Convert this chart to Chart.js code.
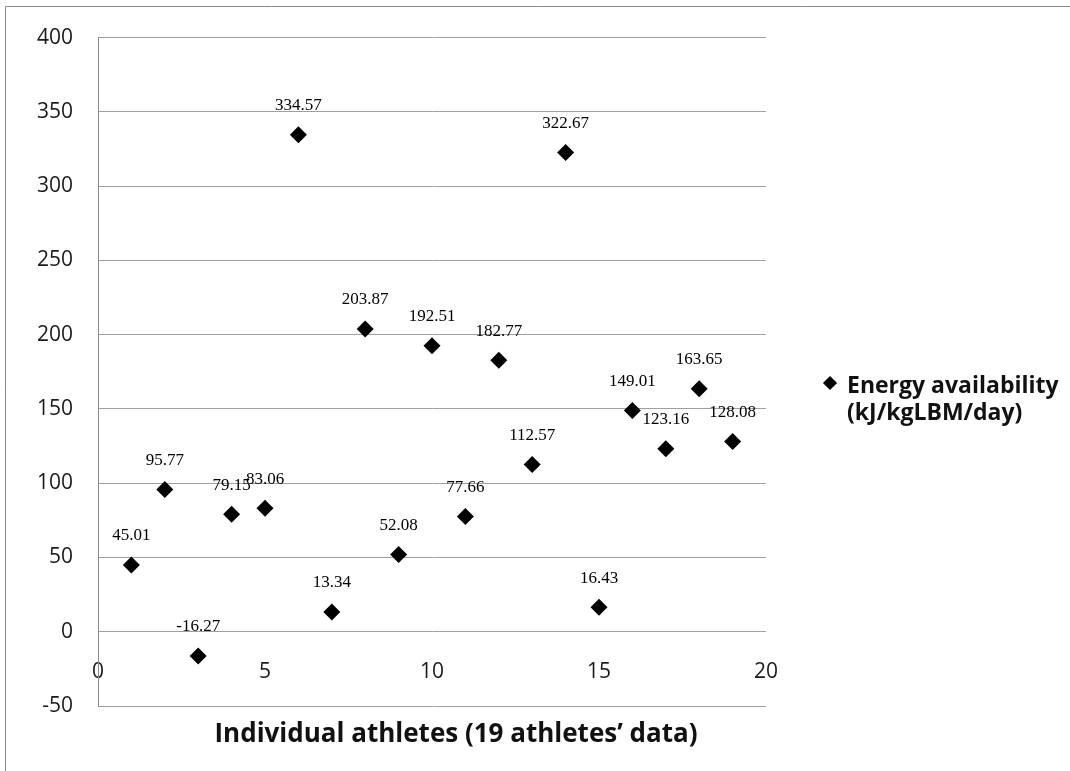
<!DOCTYPE html>
<html>
<head>
<meta charset="utf-8">
<script src="https://cdn.jsdelivr.net/npm/chart.js@4/dist/chart.umd.min.js"></script>
<style>
  html, body { margin: 0; padding: 0; background: #ffffff; }
  #wrap { position: relative; width: 1070px; height: 771px; overflow: hidden; }
  #c { position: absolute; left: 0; top: 0; }
  .txt { position: absolute; font-family: "Open Sans", sans-serif; font-weight: 700; color: #111; white-space: nowrap; }
  #xtitle { left: 456px; top: 715px; transform: translateX(-50%); font-size: 26px; line-height: 34px; }
  #legend { left: 824px; top: 371px; font-size: 23px; line-height: 27px; }
  #legend .sym { position: absolute; left: 1px; top: 7px; width: 10px; height: 10px; background: #000; transform: rotate(45deg); }
  #legend .lbl { margin-left: 23px; }
</style>
</head>
<body>
<div id="wrap">
  <canvas id="c" width="1070" height="771"></canvas>
  <div id="xtitle" class="txt">Individual athletes (19 athletes’ data)</div>
  <div id="legend" class="txt"><span class="sym"></span><div class="lbl">Energy availability<br>(kJ/kgLBM/day)</div></div>
</div>
<script>
// ---- data ----
const athletes = [1, 2, 3, 4, 5, 6, 7, 8, 9, 10, 11, 12, 13, 14, 15, 16, 17, 18, 19];
const energyAvailability = [45.01, 95.77, -16.27, 79.15, 83.06, 334.57, 13.34, 203.87, 52.08, 192.51,
                            77.66, 182.77, 112.57, 322.67, 16.43, 149.01, 123.16, 163.65, 128.08];
const xTickValues = [0, 5, 10, 15, 20];
const yTickValues = [-50, 0, 50, 100, 150, 200, 250, 300, 350, 400];
const seriesName = 'Energy availability (kJ/kgLBM/day)';

const points = athletes.map((a, i) => ({ x: a, y: energyAvailability[i] }));

const valueLabels = {
  id: 'valueLabels',
  afterDatasetsDraw(chart) {
    const ctx = chart.ctx;
    const meta = chart.getDatasetMeta(0);
    ctx.save();
    ctx.font = '17px "Liberation Serif", serif';
    ctx.fillStyle = '#000';
    ctx.textAlign = 'center';
    ctx.textBaseline = 'middle';
    meta.data.forEach((el, i) => {
      ctx.fillText(energyAvailability[i].toFixed(2), el.x, el.y - 29);
    });
    ctx.restore();
  }
};

const frame = {
  id: 'frame',
  beforeDraw(chart) {
    const ctx = chart.ctx;
    ctx.save();
    ctx.strokeStyle = '#8a8a8a';
    ctx.lineWidth = 1;
    ctx.beginPath();
    ctx.moveTo(5.5, 771);
    ctx.lineTo(5.5, 6.5);
    ctx.lineTo(1070, 6.5);
    ctx.stroke();
    ctx.restore();
  }
};

const tickFont = { family: '"Open Sans", sans-serif', size: 21 };

new Chart(document.getElementById('c'), {
  type: 'scatter',
  data: {
    datasets: [{
      label: seriesName,
      data: points,
      pointStyle: 'rectRot',
      pointRadius: 8.5,
      pointHoverRadius: 8.5,
      backgroundColor: '#000',
      borderColor: '#000',
      borderWidth: 0
    }]
  },
  options: {
    responsive: false,
    animation: false,
    devicePixelRatio: 1,
    layout: { padding: { left: 0, top: 37, right: 304, bottom: 65 } },
    plugins: { legend: { display: false }, tooltip: { enabled: false } },
    scales: {
      x: {
        type: 'linear',
        min: 0, max: 20,
        position: { y: 0 },
        grid: { display: false, drawTicks: false },
        border: { display: false },
        afterBuildTicks(scale) { scale.ticks = xTickValues.map(v => ({ value: v })); },
        ticks: { font: tickFont, color: '#1a1a1a', padding: 28, maxRotation: 0, autoSkip: false }
      },
      y: {
        type: 'linear',
        min: -50, max: 400,
        position: 'left',
        afterFit(scale) { scale.width = 98; },
        afterBuildTicks(scale) { scale.ticks = yTickValues.map(v => ({ value: v })); },
        grid: { color: '#a0a0a0', lineWidth: 1, drawTicks: false },
        border: { display: true, color: '#8a8a8a', width: 1 },
        ticks: { font: tickFont, color: '#1a1a1a', padding: 25 }
      }
    }
  },
  plugins: [frame, valueLabels]
});
</script>
</body>
</html>
